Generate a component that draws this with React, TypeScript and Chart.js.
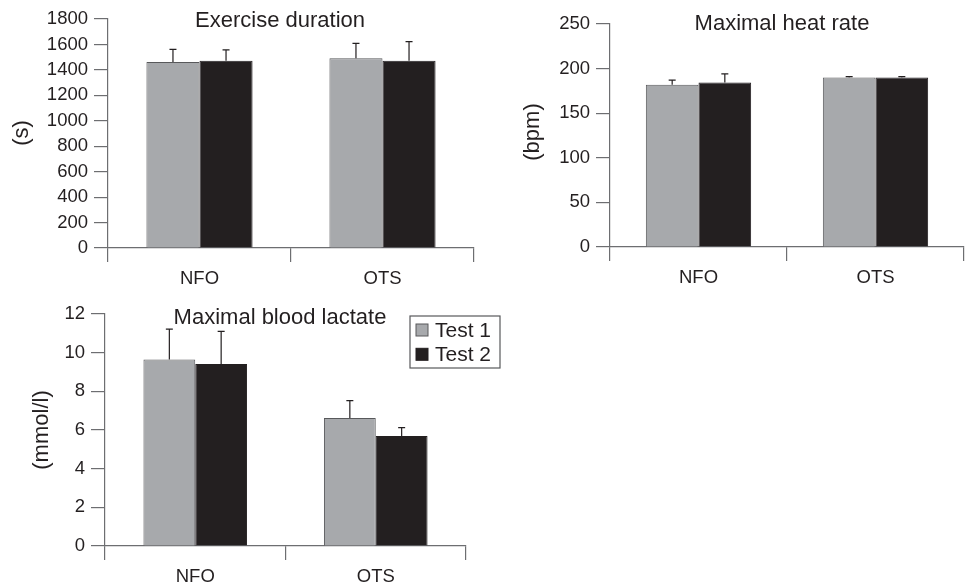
import React, { useEffect, useRef } from 'react';
import { Chart, registerables } from 'chart.js';

Chart.register(...registerables);

// ---------- data ----------
const categories = ['NFO', 'OTS'];
const seriesLabels = ['Test 1', 'Test 2'];

const durationTest1 = [1462, 1491];
const durationTest1Err = [100, 118];
const durationTest2 = [1472, 1472];
const durationTest2Err = [85, 150];
const durationTicks = { max: 1800, step: 200 };

const heartTest1 = [182, 190];
const heartTest1Err = [5, 1];
const heartTest2 = [184.5, 190];
const heartTest2Err = [9.5, 1];
const heartTicks = { max: 250, step: 50 };

const lactateTest1 = [9.65, 6.62];
const lactateTest1Err = [1.57, 0.9];
const lactateTest2 = [9.41, 5.69];
const lactateTest2Err = [1.69, 0.43];
const lactateTicks = { max: 12, step: 2 };

const titles = ['Exercise duration', 'Maximal heat rate', 'Maximal blood lactate'];
const yTitles = ['(s)', '(bpm)', '(mmol/l)'];

// ---------- styles ----------
const GRAY = '#a7a9ac';
const GRAY_BORDER = '#58595b';
const BLACK = '#231f20';
const AXIS = '#6d6e71';
const TEXT = '#231f20';
const FONT = '"Liberation Sans", Arial, Helvetica, sans-serif';

const decorPlugin = {
  id: 'panelDecor',
  afterDatasetsDraw(chart: any) {
    const ctx = chart.ctx;
    const yScale = chart.scales.y;
    chart.data.datasets.forEach((ds: any, di: number) => {
      const meta = chart.getDatasetMeta(di);
      meta.data.forEach((bar: any, i: number) => {
        const top = yScale.getPixelForValue(ds.data[i] + ds.errors[i]);
        ctx.save();
        ctx.strokeStyle = BLACK;
        ctx.lineWidth = 1.2;
        ctx.beginPath();
        ctx.moveTo(bar.x, bar.y);
        ctx.lineTo(bar.x, top);
        ctx.moveTo(bar.x - 3.5, top);
        ctx.lineTo(bar.x + 3.5, top);
        ctx.stroke();
        ctx.restore();
      });
    });
  },
  afterDraw(chart: any, _args: any, opts: any) {
    const ctx = chart.ctx;
    ctx.save();
    ctx.fillStyle = TEXT;
    ctx.font = `22px ${FONT}`;
    ctx.textAlign = 'center';
    ctx.textBaseline = 'middle';
    ctx.fillText(opts.title, opts.titleX, opts.titleY);
    ctx.save();
    ctx.translate(opts.yTitleX, opts.yTitleY);
    ctx.rotate(-Math.PI / 2);
    ctx.fillText(opts.yTitle, 0, 0);
    ctx.restore();
    if (opts.legend) {
      const L = opts.legend;
      ctx.strokeStyle = GRAY_BORDER;
      ctx.lineWidth = 1.2;
      ctx.strokeRect(L.x, L.y, L.w, L.h);
      ctx.font = `21px ${FONT}`;
      ctx.textAlign = 'left';
      chart.data.datasets.forEach((ds: any, i: number) => {
        const cy = L.y + L.first + i * L.gap;
        ctx.fillStyle = ds.backgroundColor;
        ctx.fillRect(L.x + 6, cy - 6, 12, 12);
        ctx.strokeStyle = ds.borderColor;
        ctx.lineWidth = 1;
        ctx.strokeRect(L.x + 6, cy - 6, 12, 12);
        ctx.fillStyle = TEXT;
        ctx.fillText(ds.label, L.x + 25, cy + 1);
      });
    }
    ctx.restore();
  },
};

type PanelCfg = {
  left: number; top: number; width: number; height: number;
  padTop: number; padRight: number; yW: number; xH: number;
  cat: number; tickSize: number;
  t1: number[]; t1e: number[]; t2: number[]; t2e: number[];
  ticks: { max: number; step: number };
  deco: any;
};

const panels: PanelCfg[] = [
  {
    left: 0, top: 0, width: 485, height: 290,
    padTop: 19, padRight: 11, yW: 108, xH: 42, cat: 0.58, tickSize: 18.5,
    t1: durationTest1, t1e: durationTest1Err, t2: durationTest2, t2e: durationTest2Err,
    ticks: durationTicks,
    deco: { title: titles[0], titleX: 280, titleY: 21, yTitle: yTitles[0], yTitleX: 22, yTitleY: 133 },
  },
  {
    left: 490, top: 0, width: 480, height: 290,
    padTop: 24, padRight: 6, yW: 120, xH: 43, cat: 0.595, tickSize: 18.5,
    t1: heartTest1, t1e: heartTest1Err, t2: heartTest2, t2e: heartTest2Err,
    ticks: heartTicks,
    deco: { title: titles[1], titleX: 292, titleY: 24, yTitle: yTitles[1], yTitleX: 43, yTitleY: 132 },
  },
  {
    left: 0, top: 290, width: 530, height: 296,
    padTop: 24, padRight: 64, yW: 105, xH: 40, cat: 0.574, tickSize: 18.5,
    t1: lactateTest1, t1e: lactateTest1Err, t2: lactateTest2, t2e: lactateTest2Err,
    ticks: lactateTicks,
    deco: {
      title: titles[2], titleX: 280, titleY: 28, yTitle: yTitles[2], yTitleX: 42, yTitleY: 140,
      legend: { x: 410, y: 26, w: 90, h: 52, first: 14, gap: 24.3 },
    },
  },
];

function makeConfig(p: PanelCfg): any {
  return {
    type: 'bar',
    data: {
      labels: categories,
      datasets: [
        { label: seriesLabels[0], data: p.t1, errors: p.t1e, backgroundColor: GRAY, borderColor: GRAY_BORDER, borderWidth: 1 },
        { label: seriesLabels[1], data: p.t2, errors: p.t2e, backgroundColor: BLACK, borderColor: BLACK, borderWidth: 1 },
      ],
    },
    options: {
      responsive: false,
      animation: false,
      layout: { padding: { top: p.padTop, right: p.padRight, left: 0, bottom: 0 } },
      datasets: { bar: { categoryPercentage: p.cat, barPercentage: 1 } },
      plugins: {
        legend: { display: false },
        tooltip: { enabled: false },
        title: { display: false },
        panelDecor: p.deco,
      },
      scales: {
        x: {
          grid: { offset: true, drawOnChartArea: false, drawTicks: true, tickLength: 14, color: AXIS, lineWidth: 1.2 },
          border: { color: AXIS, width: 1.2 },
          ticks: { color: TEXT, font: { family: FONT, size: p.tickSize }, padding: 6 },
          afterFit: (s: any) => { s.height = p.xH; },
        },
        y: {
          min: 0,
          max: p.ticks.max,
          ticks: {
            stepSize: p.ticks.step,
            color: TEXT,
            font: { family: FONT, size: p.tickSize },
            padding: 6,
            callback: (v: any) => String(v),
          },
          grid: { drawOnChartArea: false, drawTicks: true, tickLength: 14, color: AXIS, lineWidth: 1.2 },
          border: { color: AXIS, width: 1.2 },
          afterFit: (s: any) => { s.width = p.yW; },
        },
      },
    },
    plugins: [decorPlugin],
  };
}

export default function App() {
  const refs = [useRef<HTMLCanvasElement>(null), useRef<HTMLCanvasElement>(null), useRef<HTMLCanvasElement>(null)];
  useEffect(() => {
    const charts = panels.map((p, i) => new Chart(refs[i].current as HTMLCanvasElement, makeConfig(p)));
    return () => charts.forEach((c) => c.destroy());
  }, []);
  return (
    <div style={{ position: 'absolute', left: 0, top: 0, width: 970, height: 586, background: '#fff' }}>
      {panels.map((p, i) => (
        <canvas
          key={i}
          ref={refs[i]}
          width={p.width}
          height={p.height}
          style={{ position: 'absolute', left: p.left, top: p.top, width: p.width, height: p.height }}
        />
      ))}
    </div>
  );
}
